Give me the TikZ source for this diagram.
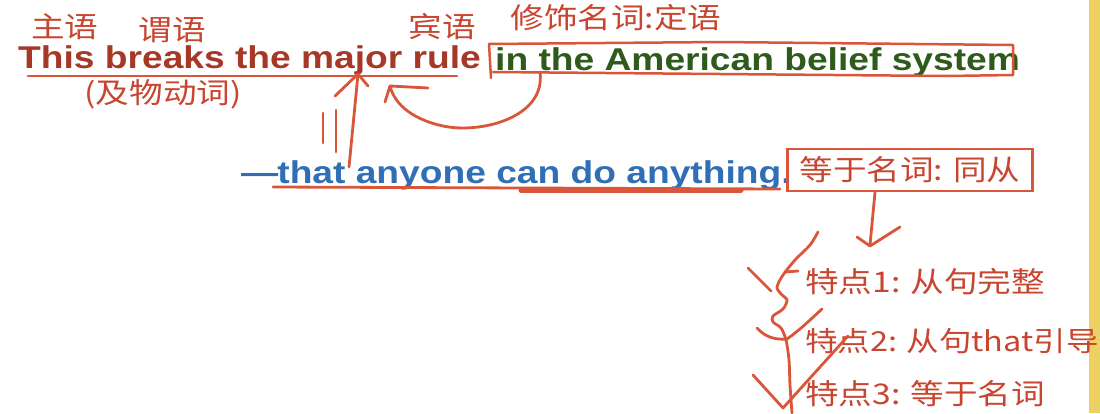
\documentclass[tikz,border=0pt]{standalone}
\usepackage{fontspec}
\setmainfont{Liberation Sans}
\newfontfamily\ensans[FakeStretch=1.18]{Liberation Sans}
\newfontfamily\cjk[FakeStretch=1.18]{Noto Sans CJK SC}
\definecolor{brickred}{RGB}{166,56,40}
\definecolor{leafgreen}{RGB}{46,90,28}
\definecolor{seablue}{RGB}{48,110,182}
\definecolor{ink}{RGB}{217,86,58}
\definecolor{labelred}{RGB}{200,69,47}
\definecolor{strip}{RGB}{238,209,100}

\begin{document}
\begin{tikzpicture}[x=1pt, y=-1pt,
    sent/.style={anchor=base west, inner sep=0pt,
        font=\ensans\bfseries\fontsize{31.5}{34}\selectfont},
    lbl/.style={inner sep=0pt, text=labelred,
        font=\cjk\fontsize{28.5}{30}\selectfont},
    feat/.style={anchor=west, inner sep=0pt, text=labelred,
        font=\cjk\fontsize{28.5}{30}\selectfont},
    pen/.style={draw=ink, line width=2.8pt, line cap=round, line join=round}]
    \useasboundingbox (0, 0) rectangle (1100, 413);
    \fill[strip] (1089, 0) rectangle (1100, 413);

    % the sentence
    \node[sent, text=brickred] (main) at (18, 68) {This breaks the major rule};
    \node[sent, text=leafgreen] (attr) at (495, 70) {in the American belief system};
    \node[sent, text=seablue] (clause) at (241, 183) {—\kern-1pt that anyone can do anything.};

    % labels
    \node[lbl] (zhuyu) at (65, 27) {主语};
    \node[lbl] (weiyu) at (172, 30) {谓语};
    \node[lbl] (binyu) at (442, 27) {宾语};
    \node[lbl] (dingyu) at (616, 18) {修饰名词:定语};
    \node[lbl] (jiwu) at (163, 94) {(及物动词)};
    \node[feat, draw=ink, line width=2.5pt, anchor=center, inner xsep=12pt,
        minimum height=42pt] (tongcong) at (910, 170) {等于名词: 同从};
    \node[feat] (tedian1) at (805, 282) {特点1: 从句完整};
    \node[feat, font=\cjk\fontsize{27.5}{30}\selectfont] (tedian2) at (805, 341) {特点2: 从句that引导};
    \node[feat] (tedian3) at (805, 394) {特点3: 等于名词};

    % ink marks
    \coordinate (ruletip) at (390, 86);
    \coordinate (boxfoot) at (540, 72);
    \coordinate (majortip) at (358, 74);
    \coordinate (thatfoot) at (349, 167);
    \draw[pen] (28, 76) -- (457, 76);
    \draw[pen, line width=2.5pt]
        (491, 78) -- (489, 44) -- (720, 42) -- (1013, 45)
        -- (1013, 75) -- (947, 76) -- (493, 72);
    \draw[pen]
        (boxfoot) .. controls (546, 118) and (480, 134) .. (443, 126)
        .. controls (415, 120) and (395, 106) .. (ruletip);
    \draw[pen] (385, 102) -- (ruletip) -- (428, 88);
    \draw[pen] (thatfoot) -- (majortip);
    \draw[pen] (335, 96) -- (majortip) -- (368, 86);
    \draw[pen]
        (323, 113) -- (323, 143)
        (336, 110) -- (336, 152);
    \draw[pen] (273, 187) -- (780, 189);
    \draw[pen, line width=5pt] (521, 190) -- (741, 190);
    \draw[pen] (tongcong.south -| 875, 0) -- (870, 245);
    \draw[pen] (857, 237) -- (870, 246) -- (900, 227);

    % brace and ticks
    \draw[pen] plot[smooth] coordinates {
        (818, 232) (810, 245) (795, 260) (783, 275) (777, 287)
        (781, 294) (787, 300) (783, 309) (773, 316) (773, 322)
        (781, 328) (786, 340) (789, 360) (790, 385) (792, 413)};
    \draw[pen] (748, 268) -- (771, 291);
    \draw[pen] (785, 272) -- (798, 271);
    \draw[pen] (757, 328) .. controls (765, 337) and (775, 340) .. (787, 339)
        .. controls (800, 330) and (812, 318) .. (822, 309);
    \draw[pen] (753, 375) -- (783, 408) -- (848, 336);
\end{tikzpicture}
\end{document}
